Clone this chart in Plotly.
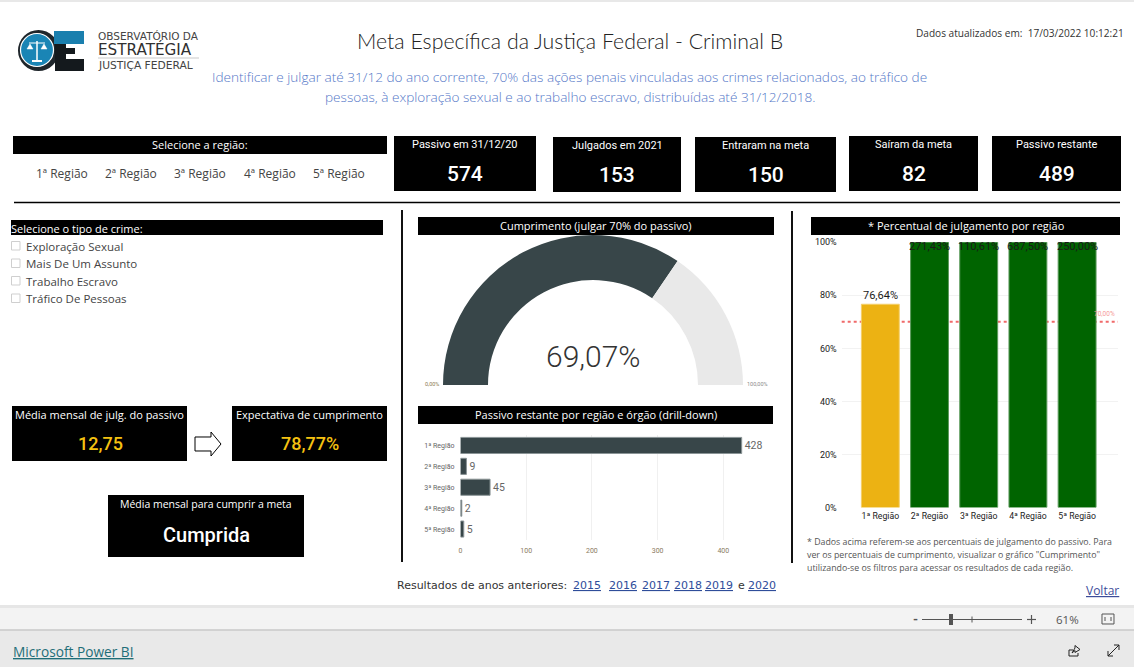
import plotly.graph_objects as go

W, H = 1134, 667

# ---------- data ----------
regions = ["1ª Região", "2ª Região", "3ª Região", "4ª Região", "5ª Região"]
passivo_restante = [428, 9, 45, 2, 5]
passivo_ticks = [0, 100, 200, 300, 400]
pct_julgamento = [76.64, 271.43, 110.61, 687.50, 250.00]
pct_labels = ["76,64%", "271,43%", "110,61%", "687,50%", "250,00%"]
pct_colors = ["#ecb213", "#006400", "#006400", "#006400", "#006400"]
pct_ticks = [0, 20, 40, 60, 80, 100]
pct_ticktext = ["0%", "20%", "40%", "60%", "80%", "100%"]
meta_pct = 70
meta_label = "70,00%"
gauge_value = 69.07
gauge_label = "69,07%"
gauge_min_label = "0,00%"
gauge_max_label = "100,00%"
kpi_titles = ["Passivo em 31/12/20", "Julgados em 2021", "Entraram na meta", "Saíram da meta", "Passivo restante"]
kpi_values = ["574", "153", "150", "82", "489"]
crime_types = ["Exploração Sexual", "Mais De Um Assunto", "Trabalho Escravo", "Tráfico De Pessoas"]
anos = ["2015", "2016", "2017", "2018", "2019", "2020"]
nota = ["* Dados acima referem-se aos percentuais de julgamento do passivo. Para",
        "ver os percentuais de cumprimento, visualizar o gráfico \"Cumprimento\"",
        "utilizando-se os filtros para acessar os resultados de cada região."]

# ---------- pixel helpers ----------
def fx(x): return x / W
def fy(y): return 1 - y / H

shapes, annots = [], []

def rect(x0, y0, x1, y1, fill, line=None, lw=0, layer="above"):
    shapes.append(dict(type="rect", xref="paper", yref="paper", x0=fx(x0), x1=fx(x1), y0=fy(y0), y1=fy(y1),
                       fillcolor=fill, line=dict(color=line or fill, width=lw), layer=layer))

def hline(x0, y0, x1, y1, color="#000", lw=1, layer="above", dash=None):
    shapes.append(dict(type="line", xref="paper", yref="paper", x0=fx(x0), x1=fx(x1), y0=fy(y0), y1=fy(y1),
                       line=dict(color=color, width=lw, dash=dash), layer=layer))

def circle(cx, cy, r, fill, line=None, lw=0):
    shapes.append(dict(type="circle", xref="paper", yref="paper", x0=fx(cx - r), x1=fx(cx + r), y0=fy(cy + r), y1=fy(cy - r),
                       fillcolor=fill, line=dict(color=line or fill, width=lw), layer="above"))

def path(points, fill="rgba(0,0,0,0)", line="#000", lw=1, close=True):
    d = "M " + " L ".join(f"{fx(x):.5f},{fy(y):.5f}" for x, y in points) + (" Z" if close else "")
    shapes.append(dict(type="path", xref="paper", yref="paper", path=d, fillcolor=fill,
                       line=dict(color=line, width=lw), layer="above"))

def text(x, y, s, size=12, color="#333", anchor="center", family="Open Sans", weight=None, under=False):
    f = dict(size=size, color=color, family=family)
    if weight: f["weight"] = weight
    if under: f["lineposition"] = "under"
    annots.append(dict(xref="paper", yref="paper", x=fx(x), y=fy(y), text=s, showarrow=False, xanchor=anchor,
                       yanchor="middle", font=f, borderpad=0, borderwidth=0))

fig = go.Figure()

# ---------- gauge ----------
fig.add_trace(go.Pie(values=[gauge_value, 100 - gauge_value, 100], sort=False, direction="clockwise", rotation=-90,
                     hole=0.7, textinfo="none", hoverinfo="skip", showlegend=False,
                     marker=dict(colors=["#384649", "#e9e9e9", "rgba(0,0,0,0)"], line=dict(width=0)),
                     domain=dict(x=[fx(443), fx(743)], y=[fy(535), fy(235)])))

# ---------- horizontal bars ----------
fig.add_trace(go.Bar(y=regions, x=passivo_restante, orientation="h", xaxis="x", yaxis="y", width=0.77,
                     marker=dict(color="#384649", line=dict(color="#8a9496", width=1)),
                     text=[str(v) for v in passivo_restante], textposition="outside", cliponaxis=False,
                     textfont=dict(size=10.5, color="#666", family="Roboto"), hoverinfo="skip", showlegend=False))

# ---------- vertical bars ----------
fig.add_trace(go.Bar(x=regions, y=pct_julgamento, xaxis="x2", yaxis="y2", width=0.77,
                     marker=dict(color=pct_colors, line=dict(color=["#f4cf6a"] + ["#5c9a5c"] * 4, width=1)),
                     hoverinfo="skip", showlegend=False))

shapes.append(dict(type="line", xref="paper", yref="y2", x0=fx(841.7), x1=fx(1118), y0=meta_pct, y1=meta_pct,
                   line=dict(color="#f06a6a", width=2, dash="3px,3px"), layer="below"))
annots.append(dict(xref="paper", yref="y2", x=fx(1104), y=meta_pct, yshift=7.5, text=meta_label, showarrow=False,
                   xanchor="center", font=dict(size=6.5, color="#f59a9a", family="Roboto")))
for r, v, lab in zip(regions, pct_julgamento, pct_labels):
    clipped = v > 100
    annots.append(dict(xref="x2", yref="y2", x=r, y=min(v, 100), text=lab, showarrow=False,
                       yanchor="top" if clipped else "bottom", yshift=4 if clipped else 0,
                       font=dict(size=11, color="#1a1a1a", family="Roboto")))

# ---------- page chrome ----------
rect(0, 0, W, 2, "#e8e8e8", layer="below")
rect(0, 605, W, 608, "#e6e6e6", layer="below")
rect(0, 608, W, 630, "#f3f3f3", layer="below")
rect(0, 630, W, 667, "#e9e9e9", layer="below")
hline(0, 630, W, 630, "#c8c8c8", 1.5, layer="below")

# logo
circle(38.5, 50.5, 20.5, "#1f262b")
circle(37, 50, 16.5, "#1a85b5", "#ffffff", 1.2)
hline(37, 41, 37, 60, "#ffffff", 1.5)
hline(29, 43, 45, 43, "#ffffff", 1)
hline(32, 61, 42, 61, "#ffffff", 2)
path([(27, 49), (33, 49), (30, 44)], "#ffffff", "#ffffff", 0.5)
path([(41, 49), (47, 49), (44, 44)], "#ffffff", "#ffffff", 0.5)
rect(54, 31, 84, 44, "#1a7fae")
rect(63, 44, 84, 71, "#14191d")
rect(55, 44, 64, 71, "#14191d")
rect(66, 44, 84, 48, "#ffffff")
rect(66, 54, 84, 59, "#ffffff")
rect(75, 48, 84, 54, "#ffffff")
text(98, 36.5, "OBSERVATÓRIO DA", 10.5, "#444", "left", "DejaVu Sans")
text(98, 50, "ESTRATÉGIA", 15.2, "#303030", "left", "DejaVu Sans")
hline(98, 58, 199, 58, "#c9c9c9", 1)
text(98, 65.5, "JUSTIÇA FEDERAL", 10.7, "#444", "left", "DejaVu Sans")

# titles
text(570, 41, "Meta Específica da Justiça Federal - Criminal B", 21.3, "#222", family="Lato", weight=300)
text(569, 77, "Identificar e julgar até 31/12 do ano corrente, 70% das ações penais vinculadas aos crimes relacionados, ao tráfico de", 13.6, "#5578c8", family="Open Sans", weight=300)
text(570, 97, "pessoas, à exploração sexual e ao trabalho escravo, distribuídas até 31/12/2018.", 13.6, "#5578c8", family="Open Sans", weight=300)
text(1124, 32.5, "Dados atualizados em:  17/03/2022 10:12:21", 10.1, "#333", "right", "Open Sans")

# region selector
rect(13, 136, 387, 154, "#000")
text(200, 144.5, "Selecione a região:", 11, "#fff")
for xc, r in zip([62, 131, 200, 269.5, 339], regions):
    text(xc, 173, r, 12, "#444")
hline(14, 202.5, 1120, 202.5, "#000", 1.5)

# KPI cards
kpi_boxes = [(394, 136, 536, 191), (553, 137, 681, 192), (695, 137, 836, 192), (849, 136, 978, 191), (992, 136, 1121, 191)]
for (x0, y0, x1, y1), t, v in zip(kpi_boxes, kpi_titles, kpi_values):
    rect(x0, y0, x1, y1, "#000")
    xc = (x0 + x1) / 2
    text(xc, y0 + 8.5, t, 11, "#fff", family="Roboto")
    text(xc, y0 + 38, v, 21, "#fff", family="Roboto", weight=500)

# dividers
hline(402, 210, 402, 562, "#111", 2)
hline(792, 211, 792, 563, "#111", 2)

# crime selector
rect(11, 220, 383, 235, "#000")
text(11, 228, "Selecione o tipo de crime:", 11, "#fff", "left")
for yc, c in zip([246, 263.5, 281, 298.5], crime_types):
    rect(11.5, yc - 4.5, 20, yc + 4, "#fff", "#cfcfcf", 1)
    text(26, yc, c, 11.5, "#444", "left")

# lower-left cards
rect(12, 406, 187, 461, "#000")
text(99.5, 414.5, "Média mensal de julg. do passivo", 11, "#fff")
text(100, 443.5, "12,75", 18, "#f5c211", family="Roboto", weight=500)
rect(232, 406, 387, 461, "#000")
text(309.5, 414.5, "Expectativa de cumprimento", 11, "#fff")
text(310, 443.5, "78,77%", 18, "#f5c211", family="Roboto", weight=500)
path([(195, 437), (211, 437), (211, 432), (221, 444), (211, 456), (211, 451), (195, 451)], "#fff", "#000", 1)
rect(108, 495, 304, 557, "#000")
text(206, 503.5, "Média mensal para cumprir a meta", 10.5, "#fff")
text(206, 535, "Cumprida", 20, "#fff", family="Roboto", weight=500)

# chart headers
rect(418, 217, 774, 235, "#000")
text(596, 225.5, "Cumprimento (julgar 70% do passivo)", 11, "#fff")
rect(418, 406, 773, 424, "#000")
text(596, 414.5, "Passivo restante por região e órgão (drill-down)", 11, "#fff")
rect(811, 217, 1120, 235, "#000")
text(966, 225.5, "* Percentual de julgamento por região", 11, "#fff")

# gauge labels
text(593, 356, gauge_label, 30, "#333", family="Roboto", weight=300)
text(431.5, 384, gauge_min_label, 5.5, "#8a7a50", family="Roboto")
text(757, 384, gauge_max_label, 5.5, "#8a8a8a", family="Roboto")

# note
for yc, n in zip([542, 555, 568], nota):
    text(807, yc, n, 8.8, "#555", "left")

# previous years
link = "#2f4d9a"
text(397, 585, "Resultados de anos anteriores:", 11, "#333", "left", "DejaVu Sans")
for xl, a in zip([573, 609, 642, 674, 705, 748], anos):
    text(xl, 585, a, 11, link, "left", "DejaVu Sans", under=True)
text(738, 585, "e", 11, "#333", "left", "DejaVu Sans")
text(1086, 590, "Voltar", 12, "#3d4d99", "left", under=True)

# footer
text(13, 651, "Microsoft Power BI", 13.7, "#1f6e78", "left", under=True)
text(915.5, 619, "-", 13, "#555", family="Roboto", weight=700)
hline(922, 619.5, 1022, 619.5, "#555", 1)
hline(972, 616.5, 972, 622.5, "#555", 1)
rect(949, 614, 953, 625, "#555")
hline(1027, 619.5, 1036, 619.5, "#555", 1.2)
hline(1031.5, 615, 1031.5, 624, "#555", 1.2)
text(1067, 619, "61%", 11.5, "#555")
path([(1102, 614), (1114, 614), (1114, 624), (1102, 624)], "rgba(0,0,0,0)", "#555", 1)
hline(1105, 617, 1105, 621, "#555", 1)
hline(1111, 617, 1111, 621, "#555", 1)
# share icon
path([(1073, 650), (1069, 650), (1069, 656), (1078, 656), (1078, 653)], "rgba(0,0,0,0)", "#222", 1, close=False)
path([(1072, 653), (1075, 648), (1075, 645.5), (1080, 649.5), (1075, 652.5), (1075, 650.5)], "rgba(0,0,0,0)", "#222", 1)
# expand icon
hline(1108, 656, 1119, 645, "#222", 1)
path([(1114, 645), (1119, 645), (1119, 650)], "rgba(0,0,0,0)", "#222", 1, close=False)
path([(1108, 651), (1108, 656), (1113, 656)], "rgba(0,0,0,0)", "#222", 1, close=False)

fig.update_layout(
    width=W, height=H, margin=dict(l=0, r=0, t=0, b=0, pad=0, autoexpand=False), autosize=False,
    paper_bgcolor="#ffffff", plot_bgcolor="rgba(0,0,0,0)", showlegend=False, bargap=0.23,
    shapes=shapes, annotations=annots,
    font=dict(family="Open Sans"),
    xaxis=dict(domain=[fx(460.5), fx(766)], range=[0, 465], tickvals=passivo_ticks, showgrid=True, gridcolor="#f0f0f0",
               zeroline=False, showline=False, ticks="", tickfont=dict(size=7, color="#8a7a60", family="Roboto"),
               anchor="y", ticklabelstandoff=5),
    yaxis=dict(domain=[fy(539.5), fy(435)], autorange="reversed", type="category", showgrid=False, zeroline=False,
               showline=False, ticks="", tickfont=dict(size=7, color="#666", family="Roboto"), anchor="x",
               ticklabelstandoff=5),
    xaxis2=dict(domain=[fx(841.7), fx(1117.7)], range=[-0.785, 4.825], type="category", showgrid=False, zeroline=False,
                showline=False, ticks="", tickfont=dict(size=8.7, color="#222", family="Roboto"), anchor="y2",
                ticklabelstandoff=2),
    yaxis2=dict(domain=[fy(507.5), fy(242.3)], range=[0, 100], tickvals=pct_ticks, ticktext=pct_ticktext, showgrid=True,
                gridcolor="#f2f2f2", zeroline=False, showline=False, ticks="",
                tickfont=dict(size=9, color="#222", family="Roboto"), anchor="x2", ticklabelstandoff=4),
)

fig.write_html("out.html", config=dict(displayModeBar=False),
               post_script="document.body.style.margin='0';document.body.style.overflow='hidden';")
